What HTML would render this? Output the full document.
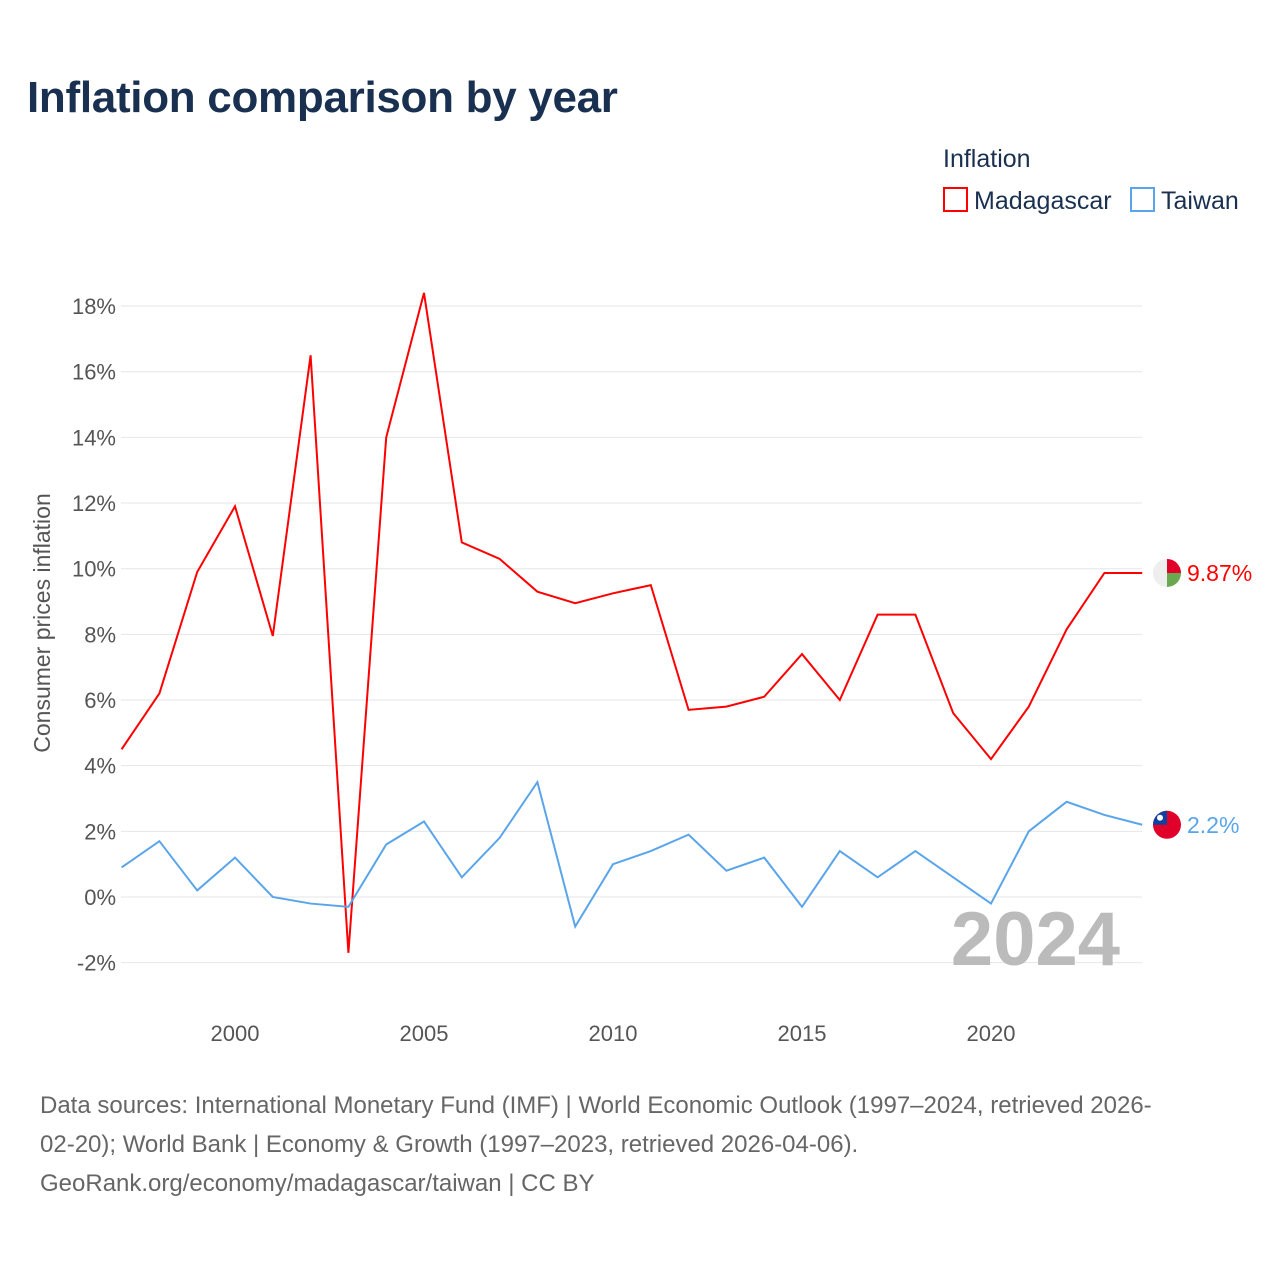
<!DOCTYPE html>
<html><head><meta charset="utf-8"><style>
body{margin:0;background:#fff;font-family:"Liberation Sans",sans-serif;}
</style></head><body>
<svg width="1280" height="1280" xmlns="http://www.w3.org/2000/svg">
<text x="27" y="112" font-size="44" font-weight="bold" fill="#1a3050" letter-spacing="-0.3">Inflation comparison by year</text>
<text x="943" y="167" font-size="25" fill="#1a3050">Inflation</text>
<g><rect x="944" y="188" width="23" height="23" fill="none" stroke="#f00" stroke-width="2"/><text x="974" y="209" font-size="25" fill="#1a3050">Madagascar</text></g>
<g><rect x="1131" y="188" width="23" height="23" fill="none" stroke="#5aa5ea" stroke-width="2"/><text x="1161" y="209" font-size="25" fill="#1a3050">Taiwan</text></g>
<g id="grid"></g><g id="yt"></g><g id="xt"></g>
<text transform="translate(50,623) rotate(-90)" text-anchor="middle" font-size="23" fill="#555">Consumer prices inflation</text>
<text x="1120" y="965" text-anchor="end" font-size="76" font-weight="bold" fill="#bbb">2024</text>
<g id="series"></g>
<g font-size="24" fill="#666">
<text x="40" y="1113">Data sources: International Monetary Fund (IMF) | World Economic Outlook (1997–2024, retrieved 2026-</text>
<text x="40" y="1152">02-20); World Bank | Economy &amp; Growth (1997–2023, retrieved 2026-04-06).</text>
<text x="40" y="1191">GeoRank.org/economy/madagascar/taiwan | CC BY</text>
</g>
</svg>
<script>
const years=[1997,1998,1999,2000,2001,2002,2003,2004,2005,2006,2007,2008,2009,2010,2011,2012,2013,2014,2015,2016,2017,2018,2019,2020,2021,2022,2023,2024];
const madagascar=[4.5,6.2,9.9,11.9,7.95,16.5,-1.7,14.0,18.4,10.8,10.3,9.3,8.95,9.25,9.5,5.7,5.8,6.1,7.4,6.0,8.6,8.6,5.6,4.2,5.8,8.15,9.87,9.87];
const taiwan=[0.9,1.7,0.2,1.2,0.0,-0.2,-0.3,1.6,2.3,0.6,1.8,3.5,-0.9,1.0,1.4,1.9,0.8,1.2,-0.3,1.4,0.6,1.4,0.6,-0.2,2.0,2.9,2.5,2.2];
const yTicks=[-2,0,2,4,6,8,10,12,14,16,18];
const xTicks=[2000,2005,2010,2015,2020];
const NS="http://www.w3.org/2000/svg";
const X=y=>121.6+(y-1997)*37.8;
const Y=v=>897-v*32.83;
function mk(t,a,p){const e=document.createElementNS(NS,t);for(const k in a)e.setAttribute(k,a[k]);p.appendChild(e);return e;}
const grid=document.getElementById('grid'),yt=document.getElementById('yt'),xt=document.getElementById('xt'),ser=document.getElementById('series');
yTicks.forEach(v=>{
const l=mk('line',{x1:121,x2:1142,y1:Y(v),y2:Y(v),stroke:'#e6e6e6','stroke-width':1},grid);


const t=mk('text',{x:116,y:Y(v)+8,'text-anchor':'end','font-size':22,fill:'#555'},yt);
t.textContent=v+'%';


});
xTicks.forEach(v=>{
const t=mk('text',{x:X(v),y:1041,'text-anchor':'middle','font-size':22,fill:'#555'},xt);
t.textContent=v;


});
function flag(cx,cy,kind,g){
const r=14;
if(kind==='mg'){
mk('circle',{cx:cx,cy:cy,r:r,fill:'#eee'},g);
mk('path',{d:`M${cx} ${cy} L${cx} ${cy-r} A${r} ${r} 0 0 1 ${cx+r} ${cy} Z`,fill:'#e0002a'},g);
mk('path',{d:`M${cx} ${cy} L${cx+r} ${cy} A${r} ${r} 0 0 1 ${cx} ${cy+r} Z`,fill:'#6aa84f'},g);
}else{
mk('circle',{cx:cx,cy:cy,r:r,fill:'#e0002a'},g);
mk('path',{d:`M${cx} ${cy} L${cx-r} ${cy} A${r} ${r} 0 0 1 ${cx} ${cy-r} Z`,fill:'#1040a0'},g);
mk('circle',{cx:cx-7,cy:cy-7,r:3,fill:'#fff'},g);
}
}
function line(data,color,name,label,kind){
const p=mk('polyline',{points:data.map((v,i)=>X(years[i])+','+Y(v)).join(' '),fill:'none',stroke:color,'stroke-width':2},ser);


const last=data[data.length-1];
const g=mk('g',{},ser);


flag(1167,Y(last),kind,g);
const t=mk('text',{x:1187,y:Y(last)+8,'font-size':23,fill:color},ser);
t.textContent=label(last);


}
line(madagascar,'#f00','madagascar-line',v=>v.toFixed(2)+'%','mg');
line(taiwan,'#5aa5ea','taiwan-line',v=>v+'%','tw');
</script>
</body></html>
